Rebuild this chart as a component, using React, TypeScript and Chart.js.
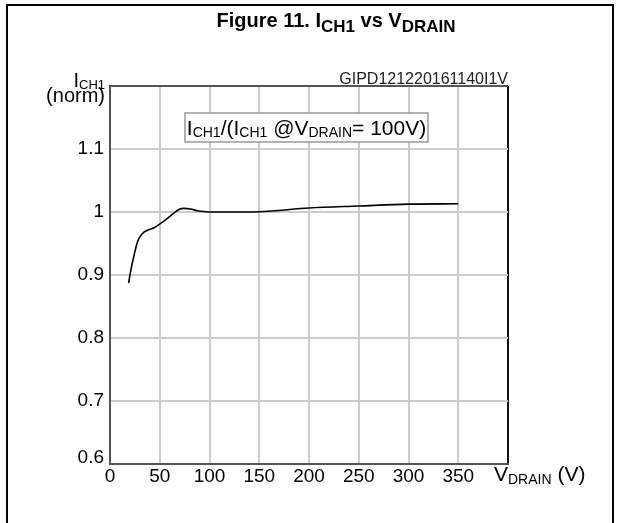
import { useEffect, useRef } from 'react';
import { Chart, registerables } from 'chart.js';

Chart.register(...registerables);

// V_DRAIN (V)
const vDrain = [18.7, 21, 24.3, 27.7, 32.7, 37.7, 44.3, 51, 57.7, 64, 69.3, 74.3, 81, 87.7, 96, 101, 120, 150, 200, 250, 300, 350];
// I_CH1 normalized to I_CH1 @ V_DRAIN = 100 V
const iNorm = [0.887, 0.908, 0.932, 0.953, 0.966, 0.971, 0.975, 0.982, 0.99, 0.998, 1.004, 1.0058, 1.0048, 1.002, 1.0005, 1.0, 1.0, 1.0005, 1.0063, 1.0095, 1.0125, 1.013];

const xTickValues = [0, 50, 100, 150, 200, 250, 300, 350, 400];
const yTickValues = [0.6, 0.7, 0.8, 0.9, 1.0, 1.1, 1.2];

const FONT = '"Liberation Sans", Arial, Helvetica, sans-serif';

type Seg = { t: string; size: number; dy: number; bold?: boolean };

function segWidth(ctx: CanvasRenderingContext2D, segs: Seg[]) {
  let w = 0;
  for (const s of segs) {
    ctx.font = `${s.bold ? 'bold ' : ''}${s.size}px ${FONT}`;
    w += ctx.measureText(s.t).width;
  }
  return w;
}

function drawRich(ctx: CanvasRenderingContext2D, segs: Seg[], x: number, y: number, align: 'left' | 'right' | 'center') {
  const w = segWidth(ctx, segs);
  let cx = align === 'left' ? x : align === 'right' ? x - w : x - w / 2;
  ctx.textAlign = 'left';
  ctx.textBaseline = 'alphabetic';
  for (const s of segs) {
    ctx.font = `${s.bold ? 'bold ' : ''}${s.size}px ${FONT}`;
    ctx.fillText(s.t, cx, y + s.dy);
    cx += ctx.measureText(s.t).width;
  }
  return w;
}

const decorPlugin = {
  id: 'decor',
  afterDraw(chart: any) {
    const ctx: CanvasRenderingContext2D = chart.ctx;
    const a = chart.chartArea;
    ctx.save();
    ctx.fillStyle = '#000';
    ctx.strokeStyle = '#000';

    // outer frame (left, top, right)
    ctx.lineWidth = 2;
    ctx.beginPath();
    ctx.moveTo(7, 523);
    ctx.lineTo(7, 5);
    ctx.lineTo(613, 5);
    ctx.lineTo(613, 523);
    ctx.stroke();

    // title
    drawRich(
      ctx,
      [
        { t: 'Figure 11. I', size: 20, dy: 0, bold: true },
        { t: 'CH1', size: 17, dy: 5, bold: true },
        { t: ' vs V', size: 20, dy: 0, bold: true },
        { t: 'DRAIN', size: 17, dy: 5, bold: true },
      ],
      336,
      27,
      'center'
    );

    // y-axis label
    drawRich(
      ctx,
      [
        { t: 'I', size: 20, dy: 0 },
        { t: 'CH1', size: 13, dy: 2 },
      ],
      a.left - 5,
      a.top + 1,
      'right'
    );
    drawRich(ctx, [{ t: '(norm)', size: 20, dy: 0 }], a.left - 5, a.top + 16, 'right');

    // lowest y tick label sits above the axis line
    const ys = chart.scales.y;
    drawRich(ctx, [{ t: '0.6', size: 19, dy: 0 }], a.left - 6, ys.getPixelForValue(0.6) - 1, 'right');

    // figure code
    ctx.fillStyle = '#222';
    drawRich(ctx, [{ t: 'GIPD121220161140I1V', size: 16, dy: 0 }], a.right, a.top - 2.5, 'right');
    ctx.fillStyle = '#000';

    // annotation box
    const bx = a.left + 75;
    const by = a.top + 27;
    const bw = 243;
    const bh = 29;
    ctx.fillStyle = '#fff';
    ctx.fillRect(bx, by, bw, bh);
    ctx.strokeStyle = '#999';
    ctx.lineWidth = 1.5;
    ctx.strokeRect(bx, by, bw, bh);
    ctx.fillStyle = '#000';
    drawRich(
      ctx,
      [
        { t: 'I', size: 21, dy: 0 },
        { t: 'CH1', size: 14, dy: 2 },
        { t: '/(I', size: 21, dy: 0 },
        { t: 'CH1', size: 14, dy: 2 },
        { t: ' @V', size: 21, dy: 0 },
        { t: 'DRAIN', size: 14, dy: 2 },
        { t: '= 100V)', size: 21, dy: 0 },
      ],
      bx + bw / 2,
      by + 22,
      'center'
    );

    // x-axis label at the 400 position
    const xs = chart.scales.x;
    drawRich(
      ctx,
      [
        { t: 'V', size: 21, dy: 0 },
        { t: 'DRAIN', size: 14, dy: 3 },
        { t: ' (V)', size: 21, dy: 0 },
      ],
      xs.getPixelForValue(400) - 14,
      a.bottom + 17,
      'left'
    );
    ctx.restore();
  },
};

export default function App() {
  const ref = useRef<HTMLCanvasElement | null>(null);

  useEffect(() => {
    if (!ref.current) return;
    const chart = new Chart(ref.current, {
      type: 'line',
      data: {
        datasets: [
          {
            data: vDrain.map((v, i) => ({ x: v, y: iNorm[i] })),
            borderColor: '#000',
            borderWidth: 1.6,
            pointRadius: 0,
            fill: false,
            cubicInterpolationMode: 'monotone',
          },
        ],
      },
      options: {
        responsive: false,
        animation: false,
        events: [],
        layout: { padding: { left: 0, top: 86, right: 114, bottom: 0 } },
        plugins: { legend: { display: false }, tooltip: { enabled: false }, title: { display: false } },
        scales: {
          x: {
            type: 'linear',
            min: 0,
            max: 400,
            afterFit: (s: any) => {
              s.height = 59;
            },
            afterBuildTicks: (s: any) => {
              s.ticks = xTickValues.map((v) => ({ value: v }));
            },
            ticks: {
              autoSkip: false,
              maxRotation: 0,
              padding: 1,
              color: '#000',
              font: { family: FONT, size: 19 },
              callback: (v: any) => (Number(v) === 400 ? '' : String(v)),
            },
            grid: {
              drawTicks: false,
              lineWidth: 2,
              color: (c: any) => (c.tick && c.tick.value === 400 ? '#111' : '#cccccc'),
            },
            border: { display: true, color: '#555', width: 2 },
          },
          y: {
            type: 'linear',
            min: 0.6,
            max: 1.2,
            afterFit: (s: any) => {
              s.width = 110;
            },
            afterBuildTicks: (s: any) => {
              s.ticks = yTickValues.map((v) => ({ value: v }));
            },
            ticks: {
              autoSkip: false,
              padding: 6,
              color: '#000',
              font: { family: FONT, size: 19 },
              callback: (v: any) => {
                const r = Math.round(Number(v) * 10) / 10;
                if (r === 1.2 || r === 0.6) return '';
                if (r === 1) return '1';
                return r.toFixed(1);
              },
            },
            grid: {
              drawTicks: false,
              lineWidth: 2,
              color: (c: any) => (c.tick && Math.abs(c.tick.value - 1.2) < 1e-6 ? '#555' : '#cccccc'),
            },
            border: { display: true, color: '#555', width: 2 },
          },
        },
      },
      plugins: [decorPlugin],
    } as any);
    return () => chart.destroy();
  }, []);

  return (
    <div style={{ position: 'fixed', left: 0, top: 0, width: 622, height: 523, background: '#fff' }}>
      <canvas ref={ref} width={622} height={523} style={{ display: 'block', width: 622, height: 523 }} />
    </div>
  );
}
